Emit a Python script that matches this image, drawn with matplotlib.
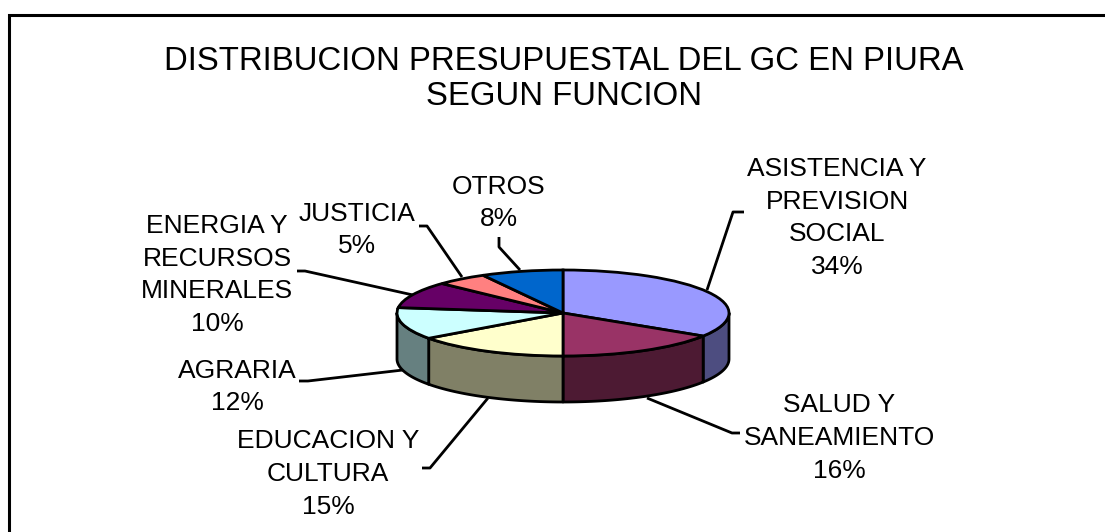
"""Distribucion presupuestal del GC en Piura: pastel 3D estilo Excel."""
import matplotlib
matplotlib.use("Agg")
import matplotlib.pyplot as plt
import numpy as np

plt.rcParams["font.family"] = ["Liberation Sans", "DejaVu Sans"]

# --- datos ---
title_text = "DISTRIBUCION PRESUPUESTAL DEL GC EN PIURA\nSEGUN FUNCION"
categories = [
    "ASISTENCIA Y\nPREVISION\nSOCIAL",
    "SALUD Y\nSANEAMIENTO",
    "EDUCACION Y\nCULTURA",
    "AGRARIA",
    "ENERGIA Y\nRECURSOS\nMINERALES",
    "JUSTICIA",
    "OTROS",
]
shares = [34, 16, 15, 12, 10, 5, 8]
top_colors = ["#9999FF", "#993366", "#FFFFCC", "#CCFFFF", "#660066", "#FF8080", "#0066CC"]
wall_colors = ["#4D4D80", "#4D1A33", "#808066", "#668080", "#330033", "#804040", "#003366"]

# --- posiciones (pixeles de la imagen) ---
W, H = 1105, 532
label_xy = [(837, 218), (839, 438), (328, 474), (237, 387), (217, 275), (357, 230), (499, 203)]
leaders = [
    [(707, 290), (733, 212), (744, 212)],
    [(647, 398), (732, 433), (740, 433)],
    [(488, 398), (430, 468), (422, 468)],
    [(403, 370), (308, 381), (299, 381)],
    [(413, 295), (305, 271), (297, 271)],
    [(462, 277), (427, 226), (419, 226)],
    [(520, 270), (499, 247), (499, 237)],
]
pie_left, pie_right = 397, 729
pie_top, pie_bottom, wall_bottom = 270, 356, 402
LW = 2.0

fig = plt.figure(figsize=(W / 100, H / 100), dpi=100, facecolor="white")

# capa de fondo en pixeles: marco, titulo, etiquetas, lineas guia
bg = fig.add_axes([0, 0, 1, 1])
bg.set_xlim(0, W)
bg.set_ylim(H, 0)
bg.axis("off")
bg.plot([8.7, 8.7, W], [H, 15.3, 15.3], color="black", lw=2.2, solid_joinstyle="miter")
bg.text(564, 79, title_text, ha="center", va="center", fontsize=23.7,
        linespacing=1.19, color="black")

for name, share, (x, y), pts in zip(categories, shares, label_xy, leaders):
    bg.text(x, y, f"{name}\n{share}%", ha="center", va="center", fontsize=19,
            linespacing=1.47, color="black")
    xs, ys = zip(*pts)
    bg.plot(xs, ys, color="black", lw=LW, solid_capstyle="butt")

# pastel: la cara superior en un eje no isometrico para que quede eliptica
depth = 2 * (wall_bottom - pie_bottom) / (pie_bottom - pie_top)
ax = fig.add_axes([pie_left / W, 1 - wall_bottom / H,
                   (pie_right - pie_left) / W, (wall_bottom - pie_top) / H])
ax.patch.set_alpha(0)

edges = np.cumsum([0] + shares) / sum(shares) * 360
for start, stop, color in zip(edges[:-1], edges[1:], wall_colors):
    a0, a1 = max(start, 90), min(stop, 270)
    if a1 <= a0:
        continue
    t = np.radians(np.linspace(a0, a1, 60))
    x, y = np.sin(t), np.cos(t)
    ax.fill(np.r_[x, x[::-1]], np.r_[y, y[::-1] - depth], facecolor=color,
            edgecolor="black", lw=LW, clip_on=False, joinstyle="round")

wedges, _ = ax.pie(shares, colors=top_colors, startangle=90, counterclock=False,
                   radius=1, wedgeprops=dict(edgecolor="black", linewidth=LW))
for w in wedges:
    w.set_clip_on(False)
ax.set_aspect("auto")
ax.set_xlim(-1, 1)
ax.set_ylim(-1 - depth, 1)
ax.axis("off")

fig.savefig("out.png", dpi=100)
